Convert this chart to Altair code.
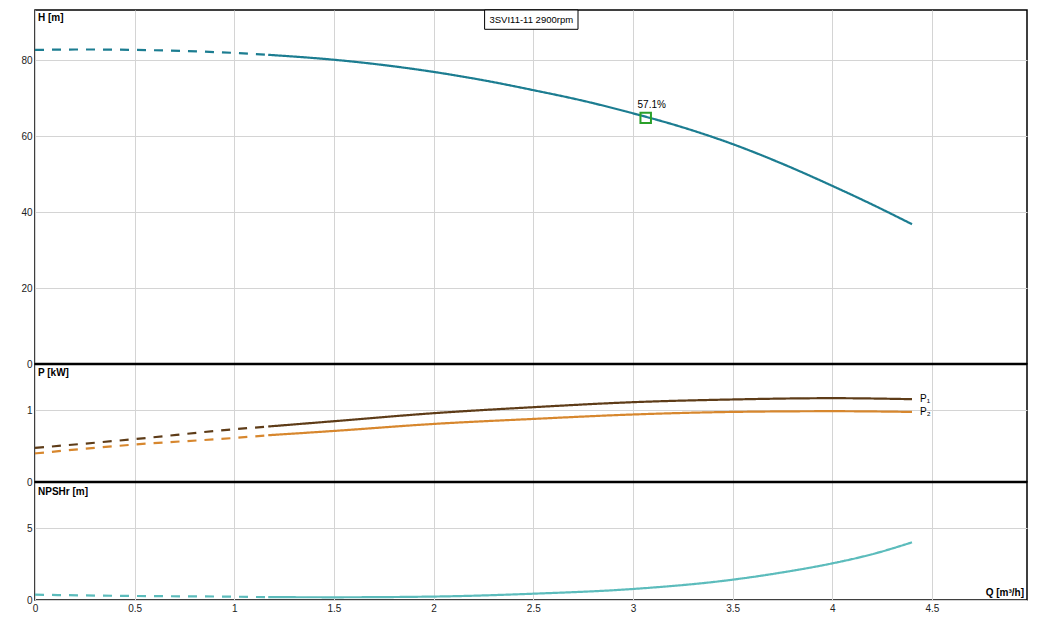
import altair as alt
import pandas as pd

# ---------------- data ----------------
Q_MAX = 4.977

head_q_dash = [0.0, 0.25, 0.5, 0.75, 1.0, 1.17]
head_dash = [82.7, 82.8, 82.7, 82.4, 81.9, 81.4]
head_q = [1.17, 1.5, 1.75, 2.0, 2.25, 2.5, 2.75, 3.0, 3.25, 3.5, 3.75, 4.0, 4.2, 4.4]
head = [81.4, 80.1, 78.7, 76.9, 74.7, 72.1, 69.3, 66.0, 62.3, 57.9, 52.7, 46.9, 42.0, 36.8]

p1_q_dash = [0.0, 0.5, 1.0, 1.17]
p1_dash = [0.476, 0.600, 0.738, 0.776]
p1_q = [1.17, 1.5, 2.0, 2.5, 3.0, 3.5, 4.0, 4.4]
p1 = [0.776, 0.850, 0.962, 1.046, 1.116, 1.154, 1.172, 1.158]

p2_q_dash = [0.0, 0.5, 1.0, 1.17]
p2_dash = [0.400, 0.524, 0.616, 0.654]
p2_q = [1.17, 1.5, 2.0, 2.5, 3.0, 3.5, 4.0, 4.4]
p2 = [0.654, 0.714, 0.812, 0.882, 0.944, 0.980, 0.990, 0.980]

npsh_q_dash = [0.0, 0.5, 1.0, 1.17]
npsh_dash = [0.37, 0.28, 0.23, 0.20]
npsh_q = [1.17, 1.5, 2.0, 2.5, 3.0, 3.5, 3.75, 4.0, 4.2, 4.4]
npsh = [0.20, 0.19, 0.24, 0.44, 0.77, 1.42, 1.93, 2.56, 3.20, 4.03]

eff_q = [3.064]
eff_h = [64.8]
eff_label = ["57.1%"]

p_label_q = [4.4, 4.4]
p_label_v = [1.158, 0.975]
p_labels = ["P\u2081", "P\u2082"]

x_ticks = [0, 0.5, 1, 1.5, 2, 2.5, 3, 3.5, 4, 4.5]
h_ticks = [0, 20, 40, 60, 80]
p_ticks = [0, 1]
n_ticks = [0, 5]

title_text = ["3SVI11-11 2900rpm"]
h_title = ["H [m]"]
p_title = ["P [kW]"]
n_title = ["NPSHr [m]"]
q_title = ["Q [m\u00b3/h]"]

# ---------------- layout / styling ----------------
W = 992
H1, H2, H3 = 354, 118, 118
FONT = "Liberation Sans"
GRID = "#d4d4d4"

C_HEAD = "#1c7d91"
C_P1 = "#5e3c18"
C_P2 = "#d7872e"
C_NPSH = "#5cbcbc"


def frame(series, qd, vd, qs, vs):
    rows = []
    for q, v in zip(qd, vd):
        rows.append({"series": series, "style": "dashed", "seg": series + "_d", "q": q, "v": v})
    for q, v in zip(qs, vs):
        rows.append({"series": series, "style": "solid", "seg": series + "_s", "q": q, "v": v})
    return pd.DataFrame(rows)


df_head = frame("H", head_q_dash, head_dash, head_q, head)
df_p = pd.concat([frame("P1", p1_q_dash, p1_dash, p1_q, p1),
                  frame("P2", p2_q_dash, p2_dash, p2_q, p2)])
df_n = frame("NPSHr", npsh_q_dash, npsh_dash, npsh_q, npsh)

dash_scale = alt.Scale(domain=["dashed", "solid"], range=[[9, 8], [1, 0]])
xscale = alt.Scale(domain=[0, Q_MAX], nice=False, zero=False)

x_hidden = alt.X("q:Q", scale=xscale, axis=alt.Axis(values=x_ticks, labels=False, ticks=False,
                                                     domain=False, grid=True, title=None,
                                                     minExtent=0, maxExtent=0))
x_bottom = alt.X("q:Q", scale=xscale, axis=alt.Axis(values=x_ticks, format="~g", labelFlush=False,
                                                     ticks=False, domain=False, grid=True, title=None,
                                                     labelPadding=3))


def yaxis(vals):
    return alt.Axis(values=vals, format="d", title=None, grid=True, domain=False, ticks=False,
                    labelPadding=3, minExtent=22, maxExtent=22)


def label(texts, x, y, align="left", weight="bold", size=10):
    return alt.Chart(pd.DataFrame({"t": texts})).mark_text(
        align=align, baseline="middle", fontWeight=weight, fontSize=size, font=FONT, color="black"
    ).encode(text="t:N", x=alt.value(x), y=alt.value(y))


def separator():
    return alt.Chart(pd.DataFrame({"a": [0]})).mark_rule(color="black", strokeWidth=2.5).encode(
        x=alt.value(0), x2=alt.value(W), y=alt.value(0))


# ---- panel 1: head ----
head_line = alt.Chart(df_head).mark_line(strokeWidth=2.2, color=C_HEAD, interpolate="monotone").encode(
    x=x_hidden,
    y=alt.Y("v:Q", scale=alt.Scale(domain=[0, 93.2], nice=False), axis=yaxis(h_ticks)),
    strokeDash=alt.StrokeDash("style:N", scale=dash_scale, legend=None),
    detail="seg:N",
)
eff_df = pd.DataFrame({"q": eff_q, "v": eff_h, "t": eff_label})
eff_pt = alt.Chart(eff_df).mark_point(shape="square", filled=False, size=110, color="#2aa02a",
                                      strokeWidth=2, opacity=1).encode(x="q:Q", y="v:Q")
eff_tx = alt.Chart(eff_df).mark_text(fontSize=10, font=FONT, dx=6, dy=-13, color="black").encode(
    x="q:Q", y="v:Q", text="t:N")
box = alt.Chart(pd.DataFrame({"a": [0]})).mark_rect(fill="white", stroke="black", strokeWidth=1).encode(
    x=alt.value(449.6), x2=alt.value(543), y=alt.value(0), y2=alt.value(19.3))
panel1 = alt.layer(head_line, eff_pt, eff_tx, box,
                   label(title_text, 496.3, 10, align="center", weight="normal", size=9.5),
                   label(h_title, 3, 8)).properties(width=W, height=H1)

# ---- panel 2: power ----
p_lines = alt.Chart(df_p).mark_line(strokeWidth=2.2, interpolate="monotone").encode(
    x=x_hidden,
    y=alt.Y("v:Q", scale=alt.Scale(domain=[0, 1.65], nice=False), axis=yaxis(p_ticks)),
    color=alt.Color("series:N", scale=alt.Scale(domain=["P1", "P2"], range=[C_P1, C_P2]), legend=None),
    strokeDash=alt.StrokeDash("style:N", scale=dash_scale, legend=None),
    detail="seg:N",
)
p_lab = alt.Chart(pd.DataFrame({"q": p_label_q, "v": p_label_v, "t": p_labels})).mark_text(
    align="left", baseline="middle", dx=8, fontSize=10, font=FONT, color="black").encode(
    x="q:Q", y="v:Q", text="t:N")
panel2 = alt.layer(p_lines, p_lab, label(p_title, 3, 9), separator()).properties(width=W, height=H2)

# ---- panel 3: NPSHr ----
n_line = alt.Chart(df_n).mark_line(strokeWidth=2.2, color=C_NPSH, interpolate="monotone").encode(
    x=x_bottom,
    y=alt.Y("v:Q", scale=alt.Scale(domain=[0, 8.25], nice=False), axis=yaxis(n_ticks)),
    strokeDash=alt.StrokeDash("style:N", scale=dash_scale, legend=None),
    detail="seg:N",
)
panel3 = alt.layer(n_line, label(n_title, 3, 10), label(q_title, W - 3, 111, align="right"),
                   separator()).properties(width=W, height=H3)

chart = alt.vconcat(panel1, panel2, panel3, spacing=0, bounds="flush").properties(
    padding={"left": 4, "top": 0, "right": 5, "bottom": 5}
).configure_view(
    stroke="black", strokeWidth=1.5
).configure_axis(
    gridColor=GRID, gridWidth=1, labelFont=FONT, labelFontSize=10, labelColor="#222"
)

chart.save("out.html", embed_options={"renderer": "svg", "actions": False})
